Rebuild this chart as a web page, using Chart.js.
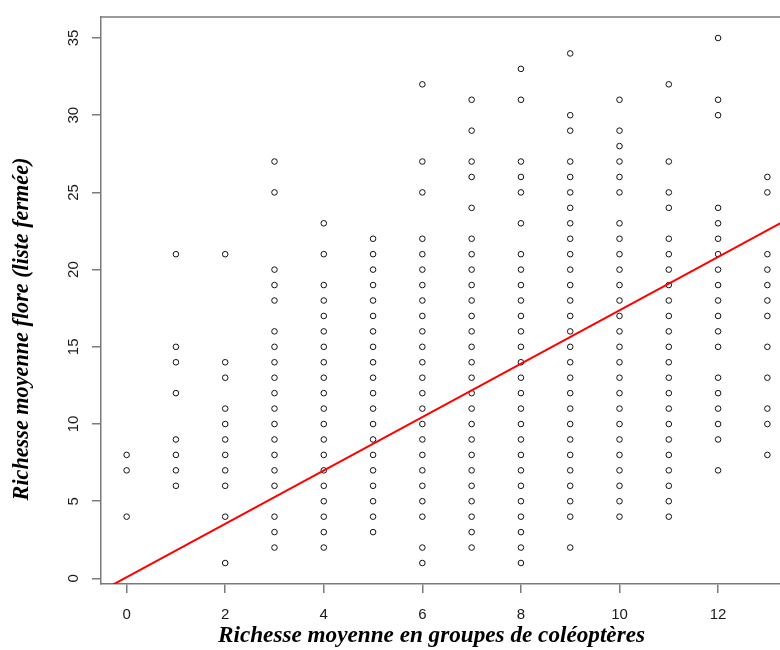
<!DOCTYPE html>
<html><head><meta charset="utf-8">
<script src="https://cdn.jsdelivr.net/npm/chart.js@4"></script>
<style>
html,body{margin:0;padding:0;overflow:hidden;background:#fff;width:780px;height:650px}
#wrap{position:absolute;left:0;top:0;width:800px;height:650px}
</style>
</head><body><div id="wrap"><canvas id="c" width="800" height="650"></canvas></div>
<script>
// Richesse flore (y) observed for each beetle-group richness value (x)
const col0=[8,7,4];
const col1=[21,15,14,12,9,8,7,6];
const col2=[21,14,13,11,10,9,8,7,6,4,1];
const col3=[27,25,20,19,18,16,15,14,13,12,11,10,9,8,7,6,4,3,2];
const col4=[23,21,19,18,17,16,15,14,13,12,11,10,9,8,7,6,5,4,3,2];
const col5=[22,21,20,19,18,17,16,15,14,13,12,11,10,9,8,7,6,5,4,3];
const col6=[32,27,25,22,21,20,19,18,17,16,15,14,13,12,11,10,9,8,7,6,5,4,2,1];
const col7=[31,29,27,26,24,22,21,20,19,18,17,16,15,14,13,12,11,10,9,8,7,6,5,4,3,2];
const col8=[33,31,27,26,25,23,21,20,19,18,17,16,15,14,13,12,11,10,9,8,7,6,5,4,3,2,1];
const col9=[34,30,29,27,26,25,24,23,22,21,20,19,18,17,16,15,14,13,12,11,10,9,8,7,6,5,4,2];
const col10=[31,29,28,27,26,25,23,22,21,20,19,18,17,16,15,14,13,12,11,10,9,8,7,6,5,4];
const col11=[32,27,25,24,22,21,20,19,18,17,16,15,14,13,12,11,10,9,8,7,6,5,4];
const col12=[35,31,30,24,23,22,21,20,19,18,17,16,15,13,12,11,10,9,7];
const col13=[26,25,21,20,19,18,17,15,13,11,10,8];
const xCategories=[0,1,2,3,4,5,6,7,8,9,10,11,12,13];
const columns=[col0,col1,col2,col3,col4,col5,col6,col7,col8,col9,col10,col11,col12,col13];

// Regression line end points
const regX=[-0.52,13.52];
const regY=[-0.82,23.45];

const xTicks=[0,2,4,6,8,10,12];
const yTicks=[0,5,10,15,20,25,30,35];
const xTitle='Richesse moyenne en groupes de coléoptères';
const yTitle='Richesse moyenne flore (liste fermée)';

const points=[];
xCategories.forEach((x,i)=>columns[i].forEach(y=>points.push({x:x,y:y})));
const regPoints=regX.map((x,i)=>({x:x,y:regY[i]}));

const AXIS='#7a7a7a';
const TXT='#1a1a1a';

const deco={
  id:'deco',
  afterDraw(chart){
    const ctx=chart.ctx, a=chart.chartArea, ys=chart.scales.y;
    ctx.save();
    ctx.strokeStyle=AXIS; ctx.lineWidth=1.5;
    ctx.beginPath();
    ctx.moveTo(a.left,a.top); ctx.lineTo(a.right,a.top); ctx.lineTo(a.right,a.bottom);
    ctx.stroke();
    ctx.fillStyle=TXT;
    ctx.font='15px "Liberation Sans", Arial, sans-serif';
    ctx.textAlign='center'; ctx.textBaseline='middle';
    yTicks.forEach(v=>{
      const py=ys.getPixelForValue(v);
      ctx.save(); ctx.translate(73.7,py); ctx.rotate(-Math.PI/2);
      ctx.fillText(String(v),0,0); ctx.restore();
    });
    ctx.fillStyle='#000';
    ctx.textBaseline='alphabetic';
    ctx.font='bold italic 20px "Liberation Serif", serif';
    let w=ctx.measureText(xTitle).width;
    let fs=20*427/w;
    ctx.font='bold italic '+fs.toFixed(2)+'px "Liberation Serif", serif';
    ctx.fillText(xTitle,431.5,642);
    ctx.font='bold italic 20px "Liberation Serif", serif';
    w=ctx.measureText(yTitle).width;
    fs=20*343/w;
    ctx.font='bold italic '+fs.toFixed(2)+'px "Liberation Serif", serif';
    ctx.save(); ctx.translate(28,329); ctx.rotate(-Math.PI/2);
    ctx.fillText(yTitle,0,0); ctx.restore();
    ctx.restore();
  }
};

new Chart(document.getElementById('c'),{
  type:'scatter',
  data:{datasets:[
    {type:'line',data:regPoints,borderColor:'#ff0000',borderWidth:2,pointRadius:0,fill:false,tension:0},
    {data:points,pointStyle:'circle',pointRadius:2.8,pointHoverRadius:2.8,borderColor:'#111',backgroundColor:'rgba(0,0,0,0)',borderWidth:1}
  ]},
  options:{
    responsive:false,animation:false,devicePixelRatio:1,
    layout:{padding:{top:17,right:7,left:0,bottom:0}},
    plugins:{legend:{display:false},tooltip:{enabled:false}},
    events:[],
    scales:{
      x:{type:'linear',min:-0.52,max:13.52,
        afterBuildTicks:s=>{s.ticks=xTicks.map(v=>({value:v}));},
        afterFit:s=>{s.height=66;},
        grid:{drawOnChartArea:false,tickLength:9,color:AXIS,lineWidth:1.5},
        border:{color:AXIS,width:1.5},
        ticks:{font:{family:'"Liberation Sans", Arial, sans-serif',size:15},color:TXT,padding:13,maxRotation:0,autoSkip:false}
      },
      y:{type:'linear',min:-0.36,max:36.36,
        afterBuildTicks:s=>{s.ticks=yTicks.map(v=>({value:v}));},
        afterFit:s=>{s.width=101;},
        grid:{drawOnChartArea:false,tickLength:9,color:AXIS,lineWidth:1.5},
        border:{color:AXIS,width:1.5},
        ticks:{display:false}
      }
    }
  },
  plugins:[deco]
});
</script>
</body></html>
